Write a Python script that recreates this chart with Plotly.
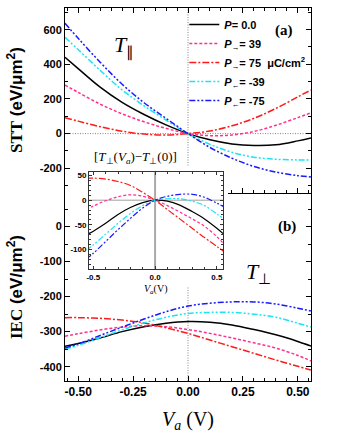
import plotly.graph_objects as go

# ---------------- data ----------------
V = [-0.56, -0.5, -0.4, -0.3, -0.2, -0.1, 0.0, 0.1, 0.2, 0.3, 0.4, 0.5, 0.56]

series_names = [
    "<i>P</i>= 0.0",
    "<i>P</i><sub>→</sub>= 39",
    "<i>P</i><sub>→</sub>= 75  μC/cm<sup>2</sup>",
    "<i>P</i><sub>←</sub>= -39",
    "<i>P</i><sub>←</sub>= -75",
]

# STT (panel a), eV/um^2
stt_p0 = [440, 375, 268, 180, 110, 50, 0, -36, -60, -69, -65, -42, -25]
stt_p39 = [280, 238, 170, 114, 68, 30, 0, -12, -8, 12, 48, 92, 120]
stt_p75 = [92, 72, 40, 14, -3, -8, 0, 15, 45, 88, 145, 212, 252]
stt_m39 = [556, 485, 365, 252, 160, 78, 0, -62, -108, -136, -148, -152, -152]
stt_m75 = [637, 550, 412, 285, 178, 88, 0, -80, -142, -190, -222, -243, -250]

# IEC (panel b), eV/um^2
iec_p0 = [-342, -334, -318, -300, -286, -276, -271, -273, -281, -294, -309, -328, -341]
iec_p39 = [-313, -306, -295, -287, -283, -286, -294, -305, -318, -332, -347, -368, -384]
iec_p75 = [-260, -260, -262, -267, -275, -289, -305, -324, -343, -362, -381, -399, -410]
iec_m39 = [-350, -339, -317, -295, -275, -259, -248, -245, -245, -250, -259, -276, -287]
iec_m75 = [-347, -335, -311, -287, -264, -243, -227, -219, -215, -215, -221, -233, -241]

stt_all = [stt_p0, stt_p39, stt_p75, stt_m39, stt_m75]
iec_all = [iec_p0, iec_p39, iec_p75, iec_m39, iec_m75]

# tick labels
x_ticks = [-0.5, -0.25, 0.0, 0.25, 0.5]
x_ticktext = ["-0.50", "-0.25", "0.00", "0.25", "0.50"]
ya_ticks = [-200, 0, 200, 400, 600]
ya_ticktext = ["-200", "0", "200", "400", "600"]
yb_ticks = [-400, -300, -200, -100, 0]
yb_ticktext = ["-400", "-300", "-200", "-100", "0"]
xi_ticks = [-0.5, 0.0, 0.5]
xi_ticktext = ["-0.5", "0.0", "0.5"]
yi_ticks = [-100, -50, 0, 50]
yi_ticktext = ["-100", "-50", "0", "50"]

# ---------------- styles ----------------
colors = ["#000000", "#ff2f8e", "#ff1a1a", "#19e6f0", "#1a1aff"]
dashes = ["solid", "3px,2px", "7px,2px,2px,2px", "6px,2px,2px,2px,2px,2px", "6px,2px,2px,2px,2px,2px"]
SANS = "Liberation Sans"
SERIF = "Liberation Serif"

XR = [-0.56, 0.56]
YA = [-343, 725]
YB = [-441, 96]
REF_LINE = dict(color="#555", width=0.7, dash="1px,1.5px")

fig = go.Figure()

# reference (dotted) lines
fig.add_trace(go.Scatter(x=XR, y=[0, 0], mode="lines", line=REF_LINE,
                         xaxis="x", yaxis="y", showlegend=False, hoverinfo="skip"))
fig.add_trace(go.Scatter(x=[0, 0], y=YA, mode="lines", line=REF_LINE,
                         xaxis="x", yaxis="y", showlegend=False, hoverinfo="skip"))
fig.add_trace(go.Scatter(x=[0, 0], y=YB, mode="lines", line=REF_LINE,
                         xaxis="x2", yaxis="y2", showlegend=False, hoverinfo="skip"))

for name, ys, c, d in zip(series_names, stt_all, colors, dashes):
    fig.add_trace(go.Scatter(x=V, y=ys, mode="lines", name=name, line=dict(color=c, width=1.5, dash=d, shape="spline"),
                             xaxis="x", yaxis="y"))
for name, ys, c, d in zip(series_names, iec_all, colors, dashes):
    fig.add_trace(go.Scatter(x=V, y=ys, mode="lines", name=name, line=dict(color=c, width=1.5, dash=d, shape="spline"),
                             xaxis="x2", yaxis="y2", showlegend=False))

# white cover behind the inset
fig.add_trace(go.Scatter(x=[0, 1, 1, 0, 0], y=[0, 0, 1, 1, 0], mode="lines", fill="toself", fillcolor="white",
                         line=dict(width=0, color="white"), xaxis="x3", yaxis="y3", showlegend=False, hoverinfo="skip"))

# inset
i0 = V.index(0.0)
fig.add_trace(go.Scatter(x=[0, 0], y=[-140, 58], mode="lines", line=dict(color="#aaaaaa", width=2),
                         xaxis="x4", yaxis="y4", showlegend=False, hoverinfo="skip"))
fig.add_trace(go.Scatter(x=[-0.535, 0.55], y=[0, 0], mode="lines", line=dict(color="#888888", width=0.8),
                         xaxis="x4", yaxis="y4", showlegend=False, hoverinfo="skip"))
for ys, c, d in zip(iec_all, colors, dashes):
    diff = [v - ys[i0] for v in ys]
    fig.add_trace(go.Scatter(x=V, y=diff, mode="lines", line=dict(color=c, width=1.2, dash=d, shape="spline"),
                             xaxis="x4", yaxis="y4", showlegend=False))

# invisible carrier trace for the short boundary axis segment (right of inset)
fig.add_trace(go.Scatter(x=[0.3], y=[-5000], mode="lines", xaxis="x5", yaxis="y5",
                         showlegend=False, hoverinfo="skip"))

tickfont = dict(family=SANS, size=12, weight="bold", color="black")
ytickfont = dict(family=SANS, size=11, weight="bold", color="black")
ycommon = dict(showline=True, linecolor="black", linewidth=1, mirror="ticks", ticks="inside",
               ticklen=5, tickcolor="black", showgrid=False, zeroline=False)
xcommon = dict(showline=True, linecolor="black", linewidth=1, mirror=False, ticks="inside",
               ticklen=5, tickcolor="black", showgrid=False, zeroline=False)

top = 0.504
fig.update_layout(
    width=338, height=437,
    margin=dict(l=65, r=27, t=8, b=56),
    paper_bgcolor="white", plot_bgcolor="white",
    xaxis=dict(domain=[0, 1], anchor="y", side="top", range=XR, tickmode="array", tickvals=x_ticks,
               showticklabels=False,
               minor=dict(tickmode="linear", tick0=0, dtick=0.05, ticklen=3, ticks="inside", tickcolor="black"),
               **xcommon),
    yaxis=dict(domain=[top, 1], anchor="x", range=YA, tickmode="array", tickvals=ya_ticks,
               ticktext=ya_ticktext, tickfont=ytickfont,
               minor=dict(tickmode="linear", tick0=0, dtick=100, ticklen=3, ticks="inside", tickcolor="black"),
               **ycommon),
    xaxis2=dict(domain=[0, 1], anchor="y2", side="bottom", range=XR, tickmode="array", tickvals=x_ticks,
                ticktext=x_ticktext, tickfont=tickfont,
                minor=dict(tickmode="linear", tick0=0, dtick=0.05, ticklen=3, ticks="inside", tickcolor="black"),
                **xcommon),
    yaxis2=dict(domain=[0, top], anchor="x2", range=YB, tickmode="array", tickvals=yb_ticks,
                ticktext=yb_ticktext, tickfont=ytickfont,
                minor=dict(tickmode="linear", tick0=0, dtick=50, ticklen=3, ticks="inside", tickcolor="black"),
                **ycommon),
    xaxis3=dict(domain=[0.0204, 0.665], anchor="y3", range=[0, 1], visible=False),
    yaxis3=dict(domain=[(381 - 286) / 373, (381 - 166) / 373], anchor="x3", range=[0, 1], visible=False),
    xaxis4=dict(domain=[(89 - 65) / 246, (223 - 65) / 246], anchor="y4", range=[-0.535, 0.55], tickmode="array",
                tickvals=xi_ticks, ticktext=xi_ticktext, tickfont=dict(family=SANS, size=8, weight="bold", color="black"),
                showline=True, linecolor="#333", linewidth=1, mirror="allticks", ticks="inside", ticklen=3,
                tickcolor="#333", showgrid=False, zeroline=False,
                minor=dict(tickmode="linear", tick0=0, dtick=0.1, ticklen=2, ticks="inside", tickcolor="#333")),
    yaxis4=dict(domain=[(381 - 269) / 373, (381 - 171.7) / 373], anchor="x4", range=[-140, 58], tickmode="array",
                tickvals=yi_ticks, ticktext=yi_ticktext, tickfont=dict(family=SANS, size=8, weight="bold", color="black"),
                showline=True, linecolor="#333", linewidth=1, mirror="allticks", ticks="inside", ticklen=3,
                tickcolor="#333", showgrid=False, zeroline=False,
                minor=dict(tickmode="linear", tick0=0, dtick=10, ticklen=2, ticks="inside", tickcolor="#333")),
    xaxis5=dict(domain=[(228 - 65) / 246, 1], anchor="y5", side="bottom",
                range=[(228 - 188) / (246 / (XR[1] - XR[0])), XR[1]], tickmode="array", tickvals=x_ticks,
                showticklabels=False,
                minor=dict(tickmode="linear", tick0=0, dtick=0.05, ticklen=3, ticks="inside", tickcolor="black"),
                **xcommon),
    yaxis5=dict(domain=[top, top + 0.001], anchor="x5", range=[0, 1], visible=False),
    legend=dict(x=0.485, y=(381 - 10) / 373, xanchor="left", yanchor="top", bgcolor="rgba(0,0,0,0)",
                font=dict(family=SANS, size=11, weight="bold", color="black"), itemwidth=30, tracegroupgap=0),
    showlegend=True,
)

ann = [
    dict(text="<b>(a)</b>", x=(284 - 65) / 246, y=(381 - 30) / 373, font=dict(family=SERIF, size=15)),
    dict(text="<b>(b)</b>", x=(287 - 65) / 246, y=(381 - 227) / 373, font=dict(family=SERIF, size=15)),
    dict(text="<i>T</i><sub>∥</sub>", x=(124 - 65) / 246, y=(381 - 47) / 373, font=dict(family=SERIF, size=22)),
    dict(text="<i>T</i><sub>⊥</sub>", x=(258 - 65) / 246, y=(381 - 273) / 373, font=dict(family=SERIF, size=22)),
    dict(text="[<i>T</i><sub>⊥</sub>(<i>V<sub>a</sub></i>)−<i>T</i><sub>⊥</sub>(0)]", x=(135 - 65) / 246,
         y=(381 - 157) / 373, font=dict(family=SERIF, size=13)),
    dict(text="<i>V<sub>a</sub></i>(V)", x=(156 - 65) / 246, y=(381 - 289) / 373, font=dict(family=SERIF, size=10)),
    dict(text="<i>V</i><sub><i>a</i></sub> (V)", x=0.5, y=(381 - 420) / 373, font=dict(family=SERIF, size=20)),
    dict(text="<span style='font-family:Liberation Serif'>STT</span> (eV/μm<sup>2</sup>)", x=(15 - 65) / 246,
         y=(381 - 100) / 373, textangle=-90, font=dict(family=SANS, size=17, weight="bold")),
    dict(text="<span style='font-family:Liberation Serif'>IEC</span> (eV/μm<sup>2</sup>)", x=(15 - 65) / 246,
         y=(381 - 287) / 373, textangle=-90, font=dict(family=SANS, size=17, weight="bold")),
]
for a in ann:
    a.update(xref="paper", yref="paper", showarrow=False, xanchor="center", yanchor="middle")
    a["font"].setdefault("color", "black")
fig.update_layout(annotations=ann)

fig.write_html("out.html", config={"displayModeBar": False},
               post_script="document.body.style.margin='0';document.body.style.padding='0';")
